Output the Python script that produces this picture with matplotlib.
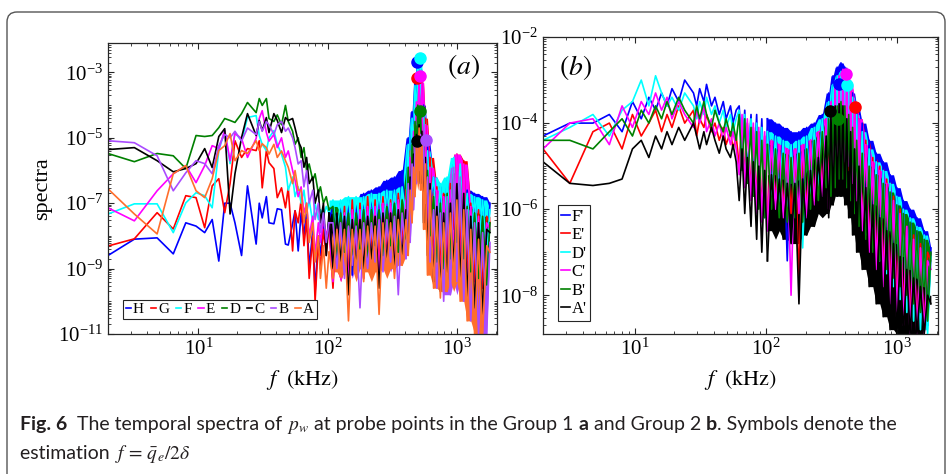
import matplotlib
matplotlib.use("Agg")
import matplotlib.pyplot as plt
from matplotlib.ticker import LogLocator, FixedLocator, NullFormatter, LogFormatterSciNotation
from matplotlib.patches import FancyBboxPatch
from matplotlib.transforms import IdentityTransform
from matplotlib import font_manager

plt.rcParams['font.family'] = 'serif'
plt.rcParams['font.serif'] = ['Liberation Serif', 'DejaVu Serif']
plt.rcParams['mathtext.fontset'] = 'stix'

# ---- panel (a), group 1: log10(spectra)
# low-frequency bins (kHz)
fa = [2.0, 3.2, 4.8, 6.4, 8.0, 9.6, 11.2, 12.8, 14.4, 16.0, 17.6, 19.2, 21.6, 24.0, 28.0, 29.6, 31.2, 33.6, 35.2,
      38.4, 40.8, 44.0, 47.2, 49.6, 53.6, 56.0, 59.2, 62.4, 65.6, 68.8, 72.0, 76.8, 80.0, 84.8, 88.0, 92.8, 97.6, 102.4]
# dense high-frequency part (kHz)
ga = [110, 118, 126, 135, 145, 155, 166, 178, 190, 204, 218, 233, 250, 268, 287, 307, 329, 352, 377, 404,
      420, 435, 450, 462, 474, 486, 498, 510, 522, 536, 552, 570, 592, 620,
      660, 700, 745, 790, 840, 890, 945, 1000, 1060, 1130, 1200, 1280, 1370, 1470, 1580, 1700, 1800]

a_H = [-8.6, -8.1, -8.06, -8.55, -7.6, -7.7, -7.9, -7.5, -8.77, -7.0, -7.0, -7.6, -8.6, -6.47, -8.25, -7.0, -7.45, -6.8, -7.6,
       -7.63, -7.17, -7.2, -8.25, -8.28, -7.63, -7.23, -8.46, -7.3, -8.0, -7.2, -9.0, -7.8, -9.7, -8.0, -8.6, -7.6, -8.4, -7.5]
a_H_hf = [-7.1, -8.9, -7.0, -8.4, -6.9, -9.2, -7.0, -8.3, -6.7, -8.8, -6.6, -8.2, -6.5, -8.6, -6.3, -8.0, -6.2, -8.3, -6.0, -7.6,
          -5.0, -6.8, -4.2, -5.6, -3.3, -4.5, -2.5, -4.0, -2.9, -4.8, -4.0, -5.9, -5.2, -7.2,
          -6.2, -8.4, -6.5, -8.8, -6.3, -8.2, -5.8, -7.6, -6.0, -8.2, -6.6, -8.6, -6.7, -8.8, -6.8, -8.6, -7.0]
a_G = [-8.31, -8.09, -7.29, -7.79, -6.77, -6.83, -7.75, -6.47, -6.25, -7.29, -6.4, -5.09, -5.6, -5.33, -5.39, -5.09, -6.53, -5.39, -5.76,
       -5.94, -6.83, -6.53, -7.14, -6.53, -8.46, -7.23, -7.6, -6.9, -8.3, -7.5, -9.3, -8.0, -10.0, -8.2, -9.0, -7.8, -8.6, -7.7]
a_G_hf = [-9.6, -7.3, -9.0, -7.1, -9.4, -6.9, -8.8, -7.0, -9.3, -6.8, -8.6, -6.9, -9.1, -6.8, -8.7, -6.9, -9.0, -6.7, -8.2, -6.6,
          -7.2, -5.4, -6.0, -4.6, -5.0, -3.7, -4.4, -3.0, -5.2, -3.3, -6.4, -4.4, -7.6, -5.6,
          -8.8, -6.5, -9.1, -6.7, -8.6, -6.4, -7.8, -5.5, -8.8, -5.7, -9.2, -7.0, -9.4, -7.2, -9.6, -7.4, -7.6]
a_F = [-7.33, -7.02, -7.02, -7.9, -6.99, -6.68, -6.77, -7.14, -5.39, -4.78, -5.79, -4.84, -5.09, -4.38, -4.32, -4.93, -5.2, -5.39, -5.0,
       -4.78, -5.2, -5.5, -5.9, -6.6, -6.2, -6.8, -6.5, -7.0, -6.6, -7.3, -6.9, -7.6, -7.0, -7.5, -7.2, -7.4, -7.1, -7.3]
a_F_hf = [-6.9, -8.0, -6.9, -7.8, -6.8, -8.1, -6.8, -7.7, -6.8, -7.9, -6.7, -7.6, -6.7, -7.8, -6.6, -7.5, -6.6, -7.7, -6.5, -7.4,
          -5.2, -6.8, -4.4, -5.8, -3.4, -4.6, -2.55, -3.9, -2.8, -4.6, -4.2, -5.8, -5.4, -7.0,
          -6.2, -7.9, -6.4, -8.1, -6.2, -7.8, -5.6, -7.3, -5.8, -7.9, -6.7, -8.2, -6.8, -8.4, -6.9, -8.6, -7.2]
a_E = [-7.14, -7.54, -6.62, -6.1, -5.85, -6.37, -5.85, -5.24, -5.33, -4.78, -5.7, -4.87, -5.02, -5.6, -5.02, -4.41, -4.17, -4.84, -5.1,
       -4.9, -5.3, -5.0, -5.6, -5.4, -6.0, -6.3, -6.8, -6.5, -7.3, -7.0, -8.0, -7.4, -8.6, -7.6, -8.2, -7.5, -8.0, -7.6]
a_E_hf = [-9.4, -7.4, -9.0, -7.3, -9.5, -7.2, -8.8, -7.2, -9.3, -7.1, -8.9, -7.1, -9.2, -7.0, -8.8, -7.0, -9.1, -6.9, -8.6, -6.9,
          -7.5, -5.6, -6.4, -4.8, -5.2, -3.9, -4.6, -3.1, -5.4, -3.3, -6.6, -4.6, -7.8, -5.9,
          -9.2, -6.6, -9.6, -6.8, -9.2, -6.6, -8.6, -5.5, -9.4, -5.8, -10.0, -7.1, -10.4, -7.4, -10.8, -7.6, -7.8]
a_D = [-5.48, -5.73, -5.48, -5.55, -5.94, -4.93, -4.96, -4.93, -4.69, -4.41, -4.47, -4.53, -4.26, -3.92, -4.23, -3.8, -4.01, -3.8, -4.41,
       -4.5, -4.3, -4.6, -4.01, -4.5, -4.8, -5.2, -5.0, -5.6, -5.3, -6.0, -5.8, -6.3, -6.1, -6.7, -6.5, -7.0, -6.8, -7.2]
a_D_hf = [-7.1, -8.6, -7.3, -8.5, -7.3, -8.8, -7.3, -8.4, -7.2, -8.7, -7.2, -8.3, -7.2, -8.6, -7.1, -8.3, -7.0, -8.5, -6.9, -8.1,
          -5.9, -7.4, -5.2, -6.6, -4.5, -5.6, -4.0, -5.0, -4.1, -5.6, -5.0, -6.8, -6.0, -8.0,
          -6.8, -8.8, -7.0, -9.0, -6.7, -8.7, -6.1, -8.2, -6.4, -8.7, -7.1, -9.1, -7.3, -9.3, -7.4, -9.5, -7.6]
a_C = [-5.36, -5.3, -5.7, -6.04, -5.94, -5.79, -5.33, -5.91, -4.96, -4.72, -7.33, -6.1, -4.99, -4.26, -4.93, -4.47, -4.78, -4.38, -4.84,
       -4.26, -4.47, -4.84, -4.38, -4.47, -4.41, -4.7, -5.1, -5.3, -5.9, -5.6, -6.4, -6.2, -7.0, -6.6, -7.6, -7.0, -8.6, -7.3]
a_C_hf = [-9.0, -7.3, -8.8, -7.4, -9.8, -7.5, -8.9, -7.5, -9.0, -7.4, -8.7, -7.4, -9.6, -7.3, -8.8, -7.3, -9.0, -7.2, -8.6, -7.2,
          -8.0, -6.2, -7.0, -5.5, -6.2, -4.9, -5.8, -4.6, -6.4, -4.8, -7.6, -5.6, -8.6, -6.4,
          -9.4, -7.1, -9.7, -7.3, -9.4, -7.0, -9.0, -6.4, -9.4, -6.7, -9.9, -7.4, -10.2, -7.6, -10.4, -7.8, -7.9]
a_B = [-5.09, -5.15, -5.55, -6.62, -6.07, -5.7, -5.79, -6.1, -5.24, -4.9, -5.0, -4.8, -5.1, -4.7, -4.9, -4.5, -4.8, -4.5, -4.6,
       -4.9, -4.6, -4.5, -4.8, -4.7, -5.0, -5.3, -5.8, -5.7, -6.5, -6.0, -7.0, -6.6, -7.5, -7.0, -7.9, -7.3, -8.2, -7.6]
a_B_hf = [-7.6, -9.0, -7.6, -9.3, -7.7, -8.9, -7.7, -10.2, -7.6, -9.0, -7.6, -8.8, -7.5, -9.1, -7.5, -8.8, -7.4, -9.8, -7.3, -8.7,
          -6.4, -8.2, -5.8, -7.2, -5.3, -6.4, -5.0, -6.0, -4.9, -5.8, -5.1, -7.0, -6.2, -8.8,
          -7.2, -9.6, -7.3, -10.0, -6.8, -9.8, -5.9, -9.4, -6.2, -10.0, -7.2, -10.6, -7.6, -11.0, -7.9, -11.0, -8.2]
a_A = [-6.56, -7.33, -7.94, -6.1, -5.85, -6.62, -6.83, -6.25, -5.39, -5.24, -4.87, -5.7, -5.39, -5.48, -5.09, -5.39, -5.18, -5.3, -5.5,
       -5.2, -5.6, -5.4, -5.7, -5.9, -6.4, -6.0, -6.6, -6.6, -7.6, -7.0, -8.2, -7.6, -8.8, -8.0, -9.3, -8.3, -9.6, -8.5]
a_A_hf = [-9.3, -7.8, -9.1, -7.8, -10.6, -7.8, -9.0, -7.8, -9.4, -7.7, -9.1, -7.7, -10.4, -7.6, -9.0, -7.6, -9.3, -7.5, -8.9, -7.5,
          -8.6, -6.6, -7.6, -5.9, -6.8, -5.2, -6.3, -4.7, -6.6, -5.0, -7.8, -5.8, -9.2, -6.6,
          -9.6, -7.4, -9.9, -7.6, -9.7, -7.3, -9.4, -6.9, -10.0, -7.2, -10.6, -7.8, -11.0, -8.1, -11.0, -8.3, -8.5]

# estimation f = q_e / 2 delta (symbols), (a): H G F E D C B
mark_a_f = [489, 489, 515, 515, 515, 489, 573]
mark_a_s = [-2.69, -3.18, -2.57, -3.12, -4.17, -5.09, -5.06]

# ---- panel (b), group 2
fb = [2.0, 3.2, 4.8, 6.4, 8.0, 9.6, 11.2, 12.8, 14.4, 16.0, 17.6, 19.2, 21.6, 24.0, 28.0, 29.6, 31.2, 33.6, 35.2,
      38.4, 40.8, 44.0, 47.2, 49.6, 53.6, 56.0, 59.2, 62.4, 65.6, 68.8, 72.0, 76.8, 80.0, 84.8, 88.0, 92.8, 97.6, 102.4]
gb = [110, 118, 126, 135, 145, 155, 166, 178, 190, 204, 218, 233, 250, 268, 287,
      300, 312, 324, 336, 348, 360, 372, 385, 398, 412, 426, 441, 456, 472, 490, 510,
      540, 575, 610, 650, 690, 735, 780, 830, 880, 935, 990, 1050, 1110, 1180, 1250, 1330, 1410, 1500, 1600, 1700, 1800]

b_F = [-4.3, -4.0, -4.0, -3.8, -4.2, -3.5, -3.9, -3.4, -3.7, -3.3, -3.6, -3.2, -3.5, -3.0, -3.3, -3.6, -3.2, -3.5, -3.1,
       -3.6, -3.4, -3.8, -3.5, -3.9, -3.6, -4.0, -3.7, -3.6, -4.8, -3.7, -5.2, -3.8, -5.4, -3.8, -5.6, -3.9, -5.9, -3.9]
b_F_hf = [-5.6, -4.0, -5.8, -4.1, -7.2, -4.2, -5.6, -4.2, -5.8, -4.1, -5.5, -4.0, -5.4, -3.8, -5.2,
          -3.3, -5.2, -2.9, -4.8, -2.7, -4.6, -2.6, -4.7, -2.7, -4.9, -3.0, -5.3, -3.3, -5.6, -3.6, -5.9,
          -4.0, -6.2, -4.4, -6.6, -4.7, -6.9, -4.9, -7.2, -5.2, -7.5, -5.5, -7.8, -5.8, -8.1, -6.0, -8.3, -6.2, -8.5, -6.5, -8.7, -6.9]
b_E = [-4.6, -5.4, -4.2, -4.0, -4.6, -3.8, -4.3, -4.0, -3.7, -4.2, -3.8, -4.1, -3.6, -4.0, -3.7, -4.3, -3.9, -4.1, -3.8,
       -4.2, -4.0, -4.4, -4.1, -4.5, -4.2, -4.6, -4.3, -5.0, -3.9, -5.3, -4.0, -5.6, -4.1, -5.9, -4.2, -6.1, -4.3, -6.3]
b_E_hf = [-4.4, -5.8, -4.5, -6.0, -4.6, -6.1, -4.6, -7.6, -4.5, -6.0, -4.4, -5.8, -4.2, -5.6, -3.9,
          -5.8, -3.6, -5.5, -3.3, -5.3, -3.1, -5.1, -3.0, -5.0, -3.0, -5.1, -3.2, -5.4, -3.5, -5.8, -3.9,
          -6.4, -4.4, -6.9, -4.8, -7.3, -5.0, -7.6, -5.3, -7.9, -5.7, -8.2, -6.0, -8.4, -6.4, -8.6, -6.6, -8.8, -6.8, -8.9, -7.0, -7.2]
b_D = [-4.4, -4.1, -3.8, -4.3, -3.7, -3.5, -3.0, -3.6, -2.9, -3.3, -3.6, -3.4, -3.7, -3.3, -3.6, -3.9, -3.5, -3.8, -3.4,
       -3.8, -3.6, -4.0, -3.7, -4.1, -3.8, -4.2, -3.9, -3.7, -5.0, -3.8, -5.4, -3.9, -5.7, -4.0, -5.9, -4.1, -6.2, -4.2]
b_D_hf = [-5.7, -4.3, -5.9, -4.4, -6.0, -4.5, -5.8, -4.4, -6.9, -4.3, -5.7, -4.1, -5.5, -3.9, -5.2,
          -3.5, -5.5, -3.1, -5.1, -2.9, -4.9, -2.8, -4.9, -2.8, -5.0, -3.0, -5.4, -3.4, -5.8, -3.8, -6.2,
          -4.2, -6.6, -4.6, -6.9, -4.9, -7.2, -5.1, -7.5, -5.4, -7.8, -5.7, -8.1, -6.0, -8.4, -6.2, -8.6, -6.4, -8.8, -6.6, -8.9, -7.1]
b_C = [-4.6, -4.0, -3.9, -4.5, -3.6, -4.1, -3.5, -3.8, -3.3, -3.7, -3.4, -3.9, -3.5, -3.8, -4.1, -3.7, -4.0, -3.6, -4.2,
       -3.9, -4.3, -4.0, -4.4, -4.1, -4.5, -4.2, -4.6, -5.2, -3.8, -5.5, -3.9, -5.8, -4.0, -6.1, -4.1, -6.3, -4.2, -6.5]
b_C_hf = [-4.4, -6.0, -4.5, -6.2, -4.6, -8.0, -4.6, -6.1, -4.5, -6.2, -4.4, -5.9, -4.2, -5.7, -3.9,
          -6.0, -3.5, -5.6, -3.1, -5.3, -2.9, -5.0, -2.75, -4.9, -2.8, -5.0, -3.1, -5.4, -3.5, -5.8, -3.9,
          -6.5, -4.5, -7.0, -4.9, -7.4, -5.1, -7.8, -5.4, -8.2, -5.8, -8.5, -6.1, -8.7, -6.4, -8.9, -6.7, -8.9, -6.9, -8.9, -7.2, -7.4]
b_B = [-4.4, -4.4, -4.6, -4.2, -3.9, -4.3, -3.7, -4.0, -3.6, -3.9, -3.5, -3.8, -3.4, -3.7, -4.0, -3.6, -3.9, -3.5, -3.8,
       -4.1, -3.7, -4.0, -4.2, -3.9, -4.3, -4.0, -4.4, -3.8, -5.1, -3.9, -5.4, -4.1, -5.7, -4.2, -6.0, -4.4, -6.2, -4.5]
b_B_hf = [-6.0, -4.6, -6.2, -4.7, -6.3, -4.8, -6.2, -4.7, -6.3, -4.6, -6.0, -4.4, -5.8, -4.2, -5.5,
          -3.9, -5.7, -3.7, -5.5, -3.6, -5.3, -3.5, -5.3, -3.6, -5.5, -3.8, -5.8, -4.1, -6.1, -4.4, -6.4,
          -4.7, -6.7, -5.0, -7.0, -5.2, -7.2, -5.4, -7.4, -5.6, -7.6, -5.9, -7.8, -6.1, -8.0, -6.3, -8.2, -6.5, -8.4, -6.7, -8.6, -7.0]
b_A = [-4.9, -5.4, -5.45, -5.4, -5.3, -4.6, -4.4, -4.8, -4.3, -4.6, -4.2, -4.5, -4.1, -4.4, -4.0, -4.3, -4.6, -4.2, -4.5,
       -4.1, -4.4, -4.7, -4.3, -4.6, -4.8, -4.5, -4.9, -5.8, -4.6, -6.1, -4.8, -6.4, -4.9, -6.7, -5.0, -7.0, -5.1, -7.2]
b_A_hf = [-5.2, -6.5, -5.3, -6.7, -5.4, -6.8, -5.4, -8.2, -5.3, -6.6, -5.1, -6.4, -4.8, -6.1, -4.3,
          -6.2, -3.8, -5.9, -3.6, -5.7, -3.55, -5.7, -3.6, -5.9, -3.9, -6.2, -4.2, -6.6, -4.6, -7.0, -5.0,
          -7.4, -5.5, -7.8, -5.9, -8.2, -6.2, -8.5, -6.5, -8.8, -6.8, -8.9, -7.1, -8.9, -7.4, -8.9, -7.6, -8.9, -7.8, -8.9, -8.0, -8.2]

# (b): F' E' D' C' B' A'
mark_b_f = [360, 475, 414, 406, 354, 308]
mark_b_s = [-3.09, -3.63, -3.12, -2.86, -3.91, -3.72]

purple = '#aa4cff'
orange = '#ff6e2c'
green = '#008000'

series_a = [
    ('H', '#0000ff', a_H, a_H_hf),
    ('G', '#ff0000', a_G, a_G_hf),
    ('F', '#00ffff', a_F, a_F_hf),
    ('E', '#ff00ff', a_E, a_E_hf),
    ('D', green, a_D, a_D_hf),
    ('C', '#000000', a_C, a_C_hf),
    ('B', purple, a_B, a_B_hf),
    ('A', orange, a_A, a_A_hf),
]
series_b = [
    ("F'", '#0000ff', b_F, b_F_hf),
    ("E'", '#ff0000', b_E, b_E_hf),
    ("D'", '#00ffff', b_D, b_D_hf),
    ("C'", '#ff00ff', b_C, b_C_hf),
    ("B'", green, b_B, b_B_hf),
    ("A'", '#000000', b_A, b_A_hf),
]


def pw(v):
    return [10.0 ** x for x in v]


def style_axes(ax, ylim, ymajor):
    ax.set_xscale('log')
    ax.set_yscale('log')
    ax.set_xlim(2, 2040)
    ax.set_ylim(*ylim)
    ax.yaxis.set_major_locator(FixedLocator(ymajor))
    ax.yaxis.set_major_formatter(LogFormatterSciNotation())
    ax.yaxis.set_minor_locator(LogLocator(base=10, subs=range(1, 10), numticks=50))
    ax.yaxis.set_minor_formatter(NullFormatter())
    ax.xaxis.set_major_locator(FixedLocator([10, 100, 1000]))
    ax.xaxis.set_minor_locator(LogLocator(base=10, subs=range(2, 10), numticks=50))
    ax.xaxis.set_minor_formatter(NullFormatter())
    ax.tick_params(which='both', direction='in', top=True, right=True, colors='#262626',
                   labelsize=15, labelcolor='black')
    ax.tick_params(which='major', length=4, width=0.8)
    ax.tick_params(which='minor', length=2.2, width=0.6)
    for s in ax.spines.values():
        s.set_color('#262626')
        s.set_linewidth(0.9)
    ax.set_xlabel(r'$f\ \ (\mathrm{kHz})$', fontsize=16, labelpad=6)


def draw(ax, series, flo, fhi, mf, ms):
    # dense part: shade the body of each noisy trace (isolated deep dips left as lines only)
    for name, col, low, hf in series:
        xs = flo[-1:] + fhi
        ys = low[-1:] + hf
        n = len(ys)
        hi = [max(ys[max(0, i - 1):i + 2]) for i in range(n)]
        lo = [sorted(ys[max(0, i - 2):i + 3])[1] for i in range(n)]
        ax.fill_between(xs, pw(lo), pw(hi), color=col, lw=0)
    for name, col, low, hf in series:
        ax.plot(flo, pw(low), color=col, lw=1.2, label=name)
        ax.plot(flo[-1:] + fhi, pw(low[-1:] + hf), color=col, lw=1.2)
    for (name, col, low, hf), f, s in zip(series, mf, ms):
        ax.plot(f, 10 ** s, 'o', color=col, ms=8)


fig = plt.figure(figsize=(9.52, 4.74), dpi=100)
ax1 = fig.add_axes([0.1134, 0.2954, 0.4086, 0.6139])
ax2 = fig.add_axes([0.5704, 0.2954, 0.4149, 0.6265])

draw(ax1, series_a, fa, ga, mark_a_f, mark_a_s)
draw(ax2, series_b, fb, gb, mark_b_f, mark_b_s)

style_axes(ax1, (1e-11, 10 ** -2.1), [1e-11, 1e-9, 1e-7, 1e-5, 1e-3])
style_axes(ax2, (10 ** -8.9, 1e-2), [1e-8, 1e-6, 1e-4, 1e-2])
ax1.set_ylabel('spectra', fontsize=16, labelpad=4)

ax1.text(0.913, 0.918, r'$(a)$', transform=ax1.transAxes, fontsize=20, ha='center', va='center')
ax2.text(0.081, 0.896, r'$(b)$', transform=ax2.transAxes, fontsize=20, ha='center', va='center')

leg1 = ax1.legend(ncol=8, loc='lower left', bbox_to_anchor=(0.038, 0.05), fontsize=11,
                  handlelength=0.35, handletextpad=0.12, columnspacing=0.45, borderpad=0.2,
                  borderaxespad=0, fancybox=False, framealpha=1, edgecolor='#262626')
leg2 = ax2.legend(ncol=1, loc='lower left', bbox_to_anchor=(0.038, 0.045), fontsize=12,
                  handlelength=0.5, handletextpad=0.12, labelspacing=0.15, borderpad=0.2,
                  borderaxespad=0, fancybox=False, framealpha=1, edgecolor='#262626')
for lg in (leg1, leg2):
    lg.get_frame().set_linewidth(0.8)

# outer rounded frame
frame = FancyBboxPatch((0.07, -0.5), 9.38, 5.12, boxstyle='round,pad=0,rounding_size=0.1',
                       transform=fig.dpi_scale_trans, fill=False, ec='#555555', lw=1.0)
fig.patches.append(frame)

# caption
cap_font = 'DejaVu Sans'
for nm in ['Liberation Sans Narrow', 'Lato', 'Open Sans', 'Liberation Sans']:
    try:
        font_manager.findfont(nm, fallback_to_default=False)
        cap_font = nm
        break
    except ValueError:
        pass

renderer = fig.canvas.get_renderer()


def caption_line(pieces, x, y):
    for s, w in pieces:
        t = fig.text(x, y, s, transform=IdentityTransform(), family=cap_font, fontsize=14,
                     weight=w, color='#231f20', va='baseline')
        x += t.get_window_extent(renderer).width


caption_line([('Fig. 6', 'bold'), ('  The temporal spectra of ', 'normal'), (r'$p_w$', 'normal'),
              (' at probe points in the Group 1 ', 'normal'), ('a', 'bold'), (' and Group 2 ', 'normal'),
              ('b', 'bold'), ('. Symbols denote the', 'normal')], 20, 474 - 430)
caption_line([('estimation ', 'normal'), (r'$f\, =\, \bar{q}_e/2\delta$', 'normal')], 20, 474 - 459)

fig.savefig('out.png', dpi=100)
